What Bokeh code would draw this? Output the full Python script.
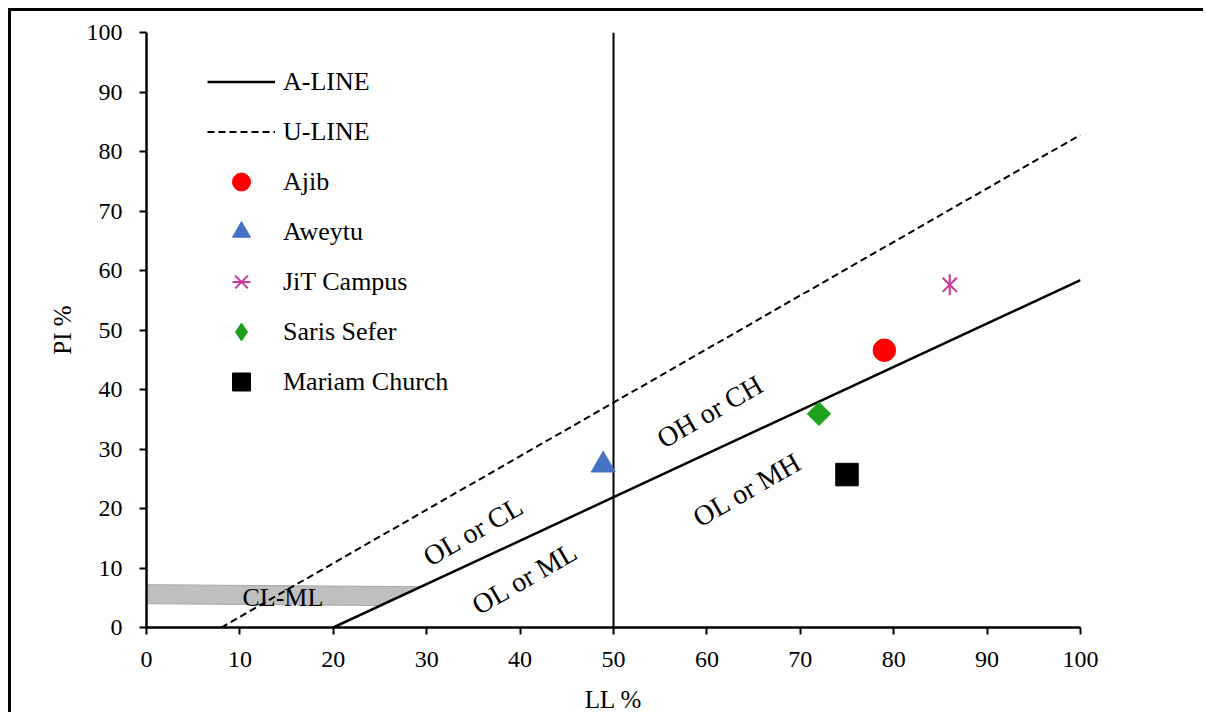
import math
from bokeh.plotting import figure
from bokeh.models import Legend, LegendItem, Range1d, FixedTicker
from bokeh.core.properties import value
from bokeh.embed import file_html
from bokeh.resources import INLINE

FONT = "Liberation Serif"

# Reference lines of the plasticity chart
a_line_ll = [20, 100]
a_line_pi = [0, 58.4]
u_line_ll = [8, 100]
u_line_pi = [0, 82.8]
ll50_ll = [50, 50]
ll50_pi = [0, 100]

# CL-ML zone
clml_ll = [0, 29.3, 24.8, 0]
clml_pi = [7.2, 6.85, 3.7, 4.0]

# Samples
samples = ["Ajib", "Aweytu", "JiT Campus", "Saris Sefer", "Mariam Church"]
sample_ll = [79.0, 48.9, 86.0, 72.0, 75.0]
sample_pi = [46.6, 27.3, 57.6, 35.9, 25.7]

# Zone labels
zone_labels = ["OL or CL", "OL or ML", "OH or CH", "OL or MH"]
zone_ll = [35.0, 40.5, 60.3, 64.3]
zone_pi = [16.2, 8.3, 36.3, 23.2]
clml_label = ["CL-ML"]
clml_label_ll = [14.6]
clml_label_pi = [5.1]

x_ticks = [0, 10, 20, 30, 40, 50, 60, 70, 80, 90, 100]
y_ticks = [0, 10, 20, 30, 40, 50, 60, 70, 80, 90, 100]

p = figure(width=1195, height=704, x_range=Range1d(0, 100), y_range=Range1d(0, 100),
           output_backend="svg", toolbar_location=None,
           min_border_left=135, min_border_top=21, min_border_right=126, min_border_bottom=87)
p.styles = {"margin-left": "11px", "margin-top": "11px",
            "box-shadow": "-3px -3px 0px 0px black"}
p.xgrid.visible = False
p.ygrid.visible = False
p.outline_line_color = None

for ax, ticks, lab, stand in ((p.xaxis[0], x_ticks, "LL %", 16), (p.yaxis[0], y_ticks, "PI %", 8)):
    ax.ticker = FixedTicker(ticks=ticks)
    ax.axis_line_width = 2.5
    ax.axis_line_color = "black"
    ax.major_tick_line_width = 2
    ax.major_tick_line_color = "black"
    ax.major_tick_out = 7
    ax.major_tick_in = 0
    ax.minor_tick_out = 0
    ax.minor_tick_in = 0
    ax.major_label_text_font = FONT
    ax.major_label_text_font_size = "24px"
    ax.major_label_text_color = "black"
    ax.major_label_standoff = 17
    ax.axis_label = lab
    ax.axis_label_text_font = FONT
    ax.axis_label_text_font_size = "25px"
    ax.axis_label_text_font_style = "normal"
    ax.axis_label_text_color = "black"
    ax.axis_label_standoff = stand

p.patch(clml_ll, clml_pi, fill_color="#BFBFBF", line_color="#A6A6A6", line_width=1)
p.line(ll50_ll, ll50_pi, line_color="black", line_width=2)
r_a = p.line(a_line_ll, a_line_pi, line_color="black", line_width=2.5)
r_u = p.line(u_line_ll, u_line_pi, line_color="black", line_width=2, line_dash="7 4")

p.text(x=zone_ll, y=zone_pi, text=zone_labels, angle=30, angle_units="deg",
       text_font=value(FONT), text_font_size="28px", text_align="center",
       text_baseline="middle", text_color="black")
p.text(x=clml_label_ll, y=clml_label_pi, text=clml_label,
       text_font=value(FONT), text_font_size="26px", text_align="center",
       text_baseline="middle", text_color="black")

r_ajib = p.scatter([sample_ll[0]], [sample_pi[0]], marker="circle", size=22.5,
                   fill_color="#FF0000", line_color="#FF0000")
r_awey = p.scatter([sample_ll[1]], [sample_pi[1]], marker="triangle", size=24,
                   fill_color="#4472C4", line_color="#4472C4")
r_jit1 = p.scatter([sample_ll[2]], [sample_pi[2]], marker="x", size=20,
                   line_color="#CC3399", line_width=2)
r_jit2 = p.scatter([sample_ll[2]], [sample_pi[2]], marker="dash", size=21, angle=math.pi / 2,
                   line_color="#CC3399", line_width=2)
# diamond drawn underneath (used for the legend key), covered by the rotated square
r_saris_key = p.scatter([sample_ll[3]], [sample_pi[3]], marker="diamond", size=20,
                        fill_color="#1FA01F", line_color="#1FA01F")
r_saris = p.scatter([sample_ll[3]], [sample_pi[3]], marker="square", size=16.5, angle=math.pi / 4,
                    fill_color="#1FA01F", line_color="#1FA01F")
r_mar = p.scatter([sample_ll[4]], [sample_pi[4]], marker="square", size=22.5,
                  fill_color="black", line_color="black")

items = [
    LegendItem(label="A-LINE", renderers=[r_a]),
    LegendItem(label="U-LINE", renderers=[r_u]),
    LegendItem(label=samples[0], renderers=[r_ajib]),
    LegendItem(label=samples[1], renderers=[r_awey]),
    LegendItem(label=samples[2], renderers=[r_jit1, r_jit2]),
    LegendItem(label=samples[3], renderers=[r_saris_key]),
    LegendItem(label=samples[4], renderers=[r_mar]),
]
legend = Legend(items=items, location=(61, 223), glyph_width=68, glyph_height=45,
                label_height=20, spacing=5, padding=0, margin=0,
                border_line_color=None, background_fill_alpha=0,
                label_text_font=FONT, label_text_font_size="26px",
                label_text_color="black", label_standoff=8)
p.add_layout(legend)

open("out.html", "w").write(file_html(p, INLINE))
